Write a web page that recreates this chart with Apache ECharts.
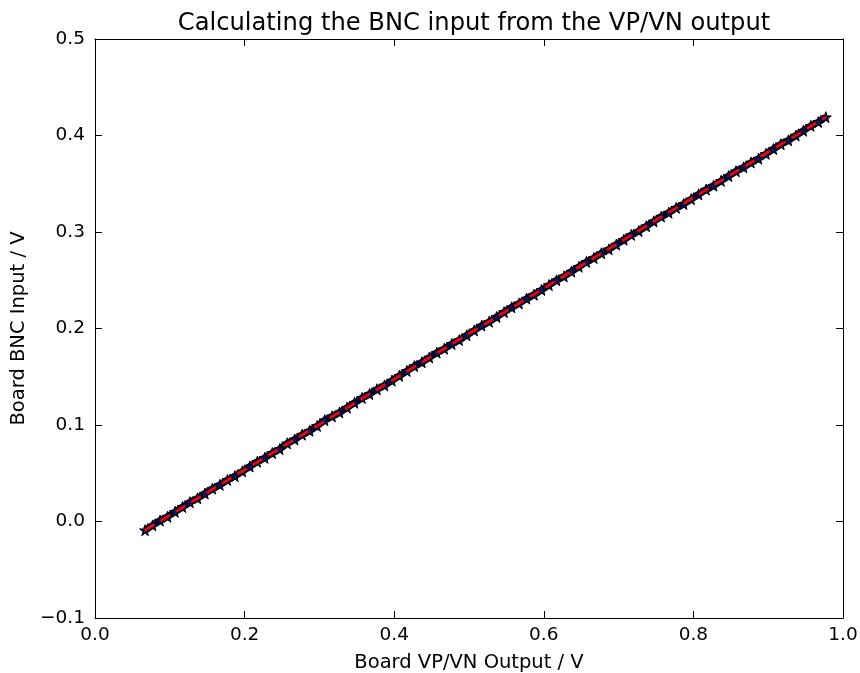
<!DOCTYPE html>
<html>
<head>
<meta charset="utf-8">
<script src="https://cdn.jsdelivr.net/npm/echarts@6/dist/echarts.min.js"></script>
<style>html,body{margin:0;padding:0;background:#fff;}#c{width:860px;height:673px;}</style>
</head>
<body>
<div id="c"></div>
<script>
// Measured data (x: board VP/VN output, y: board BNC input)
var measX = [0.067,0.077,0.087,0.097,0.107,0.117,0.127,0.137,0.147,0.157,0.167,0.177,0.187,0.197,0.207,0.217,0.227,0.237,0.247,0.257,0.267,0.277,0.287,0.297,0.307,0.317,0.327,0.337,0.347,0.357,0.367,0.377,0.387,0.397,0.407,0.417,0.427,0.437,0.447,0.457,0.467,0.477,0.487,0.497,0.507,0.517,0.527,0.537,0.547,0.557,0.567,0.577,0.587,0.597,0.607,0.617,0.627,0.637,0.647,0.657,0.667,0.677,0.687,0.697,0.707,0.717,0.727,0.737,0.747,0.757,0.767,0.777,0.787,0.797,0.807,0.817,0.827,0.837,0.847,0.857,0.867,0.877,0.887,0.897,0.907,0.917,0.927,0.937,0.947,0.957,0.967,0.977];
var measY = [-0.009,-0.004,0.001,0.005,0.010,0.015,0.020,0.024,0.029,0.034,0.038,0.043,0.047,0.052,0.057,0.062,0.066,0.071,0.075,0.081,0.085,0.090,0.094,0.099,0.105,0.109,0.113,0.118,0.123,0.128,0.132,0.137,0.141,0.146,0.151,0.156,0.161,0.165,0.170,0.175,0.179,0.184,0.188,0.193,0.198,0.203,0.207,0.212,0.217,0.222,0.226,0.231,0.235,0.240,0.245,0.250,0.254,0.259,0.264,0.269,0.273,0.278,0.282,0.287,0.292,0.297,0.301,0.306,0.311,0.316,0.320,0.325,0.329,0.334,0.339,0.344,0.348,0.353,0.358,0.363,0.367,0.372,0.376,0.381,0.386,0.391,0.395,0.400,0.405,0.410,0.414,0.419];
// Linear fit line end points
var fitX = [0.067, 0.977];
var fitY = [-0.009, 0.419];
// Axis ticks
var xTicks = [0.0, 0.2, 0.4, 0.6, 0.8, 1.0];
var yTicks = [-0.1, 0.0, 0.1, 0.2, 0.3, 0.4, 0.5];

var titleText = 'Calculating the BNC input from the VP/VN output';
var xName = 'Board VP/VN Output / V';
var yName = 'Board BNC Input / V';

var FONT = 'DejaVu Sans';
var chart = echarts.init(document.getElementById('c'), null, {renderer: 'canvas'});

function fmt(v) {
  var s = v.toFixed(1);
  if (v < 0) s = '\u2212' + s.slice(1);
  return s;
}
var starPath = 'path://M50,0 L61,35 L98,35 L68,57 L79,91 L50,70 L21,91 L32,57 L2,35 L39,35 Z';

var measData = measX.map(function (x, i) { return [x, measY[i]]; });
var fitData = fitX.map(function (x, i) { return [x, fitY[i]]; });

var baseAxis = {
  axisLine: {show: true, onZero: false, lineStyle: {color: '#000', width: 1}},
  axisTick: {show: true, inside: true, length: 7, lineStyle: {color: '#000', width: 1}},
  splitLine: {show: false}
};

chart.setOption({
  animation: false,
  backgroundColor: '#fff',
  title: {
    text: titleText, left: 469, top: 7, textAlign: 'center',
    textStyle: {fontFamily: FONT, fontSize: 24.2, fontWeight: 'normal', color: '#000'}
  },
  grid: {left: 95, right: 17, top: 39, bottom: 55, containLabel: false, outerBoundsMode: 'none'},
  xAxis: [
    Object.assign({}, baseAxis, {
      type: 'value', min: 0, max: 1.0, interval: 0.2, position: 'bottom',
      name: xName, nameLocation: 'middle', nameGap: 35,
      nameTextStyle: {fontFamily: FONT, fontSize: 19.5, color: '#000'},
      axisLabel: {fontFamily: FONT, fontSize: 18.5, color: '#000', margin: 8,
        formatter: function (v) { return fmt(v); }}
    }),
    Object.assign({}, baseAxis, {
      type: 'value', min: 0, max: 1.0, interval: 0.2, position: 'top',
      axisLabel: {show: false}
    })
  ],
  yAxis: [
    Object.assign({}, baseAxis, {
      type: 'value', min: -0.1, max: 0.5, interval: 0.1, position: 'left',
      name: yName, nameLocation: 'middle', nameGap: 65, nameRotate: 90,
      nameTextStyle: {fontFamily: FONT, fontSize: 19.5, color: '#000'},
      axisLabel: {fontFamily: FONT, fontSize: 18.5, color: '#000', margin: 10,
        formatter: function (v) { return fmt(v); }}
    }),
    Object.assign({}, baseAxis, {
      type: 'value', min: -0.1, max: 0.5, interval: 0.1, position: 'right',
      axisLabel: {show: false}
    })
  ],
  series: [
    {
      type: 'line', xAxisIndex: 0, yAxisIndex: 0, data: measData,
      lineStyle: {color: '#0b0b3e', width: 7},
      symbol: starPath, symbolSize: 11, showSymbol: true,
      itemStyle: {color: '#14145e', borderColor: '#000', borderWidth: 1},
      z: 2
    },
    {
      type: 'line', xAxisIndex: 0, yAxisIndex: 0, data: fitData,
      lineStyle: {color: '#ff0000', width: 2.6, type: [11, 7]},
      symbol: 'none', z: 3
    }
  ]
});
</script>
</body>
</html>
